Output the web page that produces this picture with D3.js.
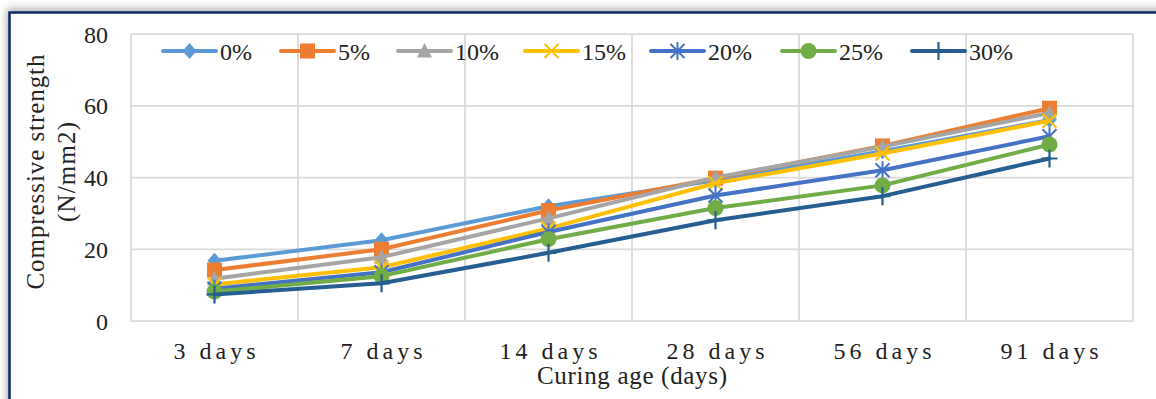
<!DOCTYPE html>
<html>
<head>
<meta charset="utf-8">
<script src="https://cdn.jsdelivr.net/npm/d3@7"></script>
<style>
  html, body { margin: 0; padding: 0; background: #fff; }
  svg { display: block; }
</style>
</head>
<body>
<div id="chart"></div>
<script>
// data
const categories = ["3 days", "7 days", "14 days", "28 days", "56 days", "91 days"];
const seriesNames = ["0%", "5%", "10%", "15%", "20%", "25%", "30%"];
const s0  = [16.8, 22.5, 32.0, 39.2, 47.3, 56.0];
const s5  = [14.2, 20.0, 30.8, 39.8, 48.8, 59.3];
const s10 = [11.8, 17.8, 28.6, 40.0, 48.6, 58.0];
const s15 = [10.2, 15.0, 25.8, 38.4, 46.7, 55.8];
const s20 = [9.0, 13.6, 24.8, 35.0, 42.0, 51.5];
const s25 = [8.2, 12.5, 22.8, 31.5, 37.8, 49.2];
const s30 = [7.4, 10.5, 19.0, 28.1, 34.8, 45.3];
const yTicks = [0, 20, 40, 60, 80];

const seriesValues = [s0, s5, s10, s15, s20, s25, s30];
const colors = ["#5B9BD5", "#ED7D31", "#A5A5A5", "#FFC000", "#4472C4", "#70AD47", "#255E91"];
const markers = ["diamond", "square", "triangle", "x", "star", "circle", "plus"];

const width = 1156;
const height = 399;
const font = "'Liberation Serif', 'Times New Roman', serif";

const svg = d3.select("#chart").append("svg")
  .attr("width", width)
  .attr("height", height);

// frame with soft shadow on top/left
const defs = svg.append("defs");
const flt = defs.append("filter").attr("id", "shadow")
  .attr("x", "-5%").attr("y", "-10%").attr("width", "110%").attr("height", "120%");
flt.append("feDropShadow")
  .attr("dx", -2).attr("dy", -3)
  .attr("stdDeviation", 4)
  .attr("flood-color", "#000")
  .attr("flood-opacity", 0.35);

svg.append("rect")
  .attr("x", 9).attr("y", 12)
  .attr("width", width + 20).attr("height", height + 20)
  .attr("fill", "#fff")
  .attr("filter", "url(#shadow)");
svg.append("rect")
  .attr("x", 9.5).attr("y", 12.5)
  .attr("width", width + 20).attr("height", height + 20)
  .attr("fill", "none")
  .attr("stroke", "#0E2A6B")
  .attr("stroke-width", 2.5);

// plot area
const plot = { left: 131, right: 1133, top: 34, bottom: 321 };

const x = d3.scaleBand()
  .domain(categories)
  .range([plot.left, plot.right])
  .padding(0);

const y = d3.scaleLinear()
  .domain([0, 80])
  .range([plot.bottom, plot.top]);

const grid = svg.append("g").attr("stroke", "#D9D9D9").attr("stroke-width", 1.75);

// horizontal gridlines
grid.selectAll("line.h")
  .data(yTicks)
  .join("line")
  .attr("class", "h")
  .attr("x1", plot.left).attr("x2", plot.right)
  .attr("y1", d => y(d)).attr("y2", d => y(d));

// vertical gridlines on category boundaries
const bounds = categories.map(c => x(c)).concat([x(categories[categories.length - 1]) + x.bandwidth()]);
grid.selectAll("line.v")
  .data(bounds)
  .join("line")
  .attr("class", "v")
  .attr("x1", d => d).attr("x2", d => d)
  .attr("y1", plot.top).attr("y2", plot.bottom);

// y tick labels
svg.append("g")
  .selectAll("text")
  .data(yTicks)
  .join("text")
  .attr("x", 108)
  .attr("y", d => y(d))
  .attr("dy", "0.36em")
  .attr("text-anchor", "end")
  .attr("font-family", font)
  .attr("font-size", 24)
  .attr("fill", "#222")
  .text(d => d);

// x tick labels (spaced out like the original)
svg.append("g")
  .selectAll("text")
  .data(categories)
  .join("text")
  .attr("x", d => x(d) + x.bandwidth() / 2 + 2)
  .attr("y", 359)
  .attr("text-anchor", "middle")
  .attr("font-family", font)
  .attr("font-size", 24)
  .attr("letter-spacing", 4)
  .attr("fill", "#222")
  .text(d => d);

// axis titles
svg.append("text")
  .attr("x", (plot.left + plot.right) / 2)
  .attr("y", 384)
  .attr("text-anchor", "middle")
  .attr("font-family", font)
  .attr("font-size", 25)
  .attr("textLength", 190)
  .attr("lengthAdjust", "spacing")
  .attr("fill", "#222")
  .text("Curing age (days)");

const yTitle = svg.append("g")
  .attr("transform", "translate(0,172) rotate(-90)")
  .attr("font-family", font)
  .attr("font-size", 25)
  .attr("fill", "#222");
yTitle.append("text")
  .attr("x", 0).attr("y", 44)
  .attr("text-anchor", "middle")
  .attr("textLength", 235)
  .attr("lengthAdjust", "spacing")
  .text("Compressive strength");
yTitle.append("text")
  .attr("x", 0).attr("y", 75)
  .attr("text-anchor", "middle")
  .attr("textLength", 100)
  .attr("lengthAdjust", "spacing")
  .text("(N/mm2)");

// marker shapes
function drawMarker(g, type, color) {
  if (type === "diamond") {
    g.append("path").attr("d", "M0,-8L7,0L0,8L-7,0Z").attr("fill", color);
  } else if (type === "square") {
    g.append("rect").attr("x", -7.5).attr("y", -7.5).attr("width", 15).attr("height", 15).attr("fill", color);
  } else if (type === "triangle") {
    g.append("path").attr("d", "M0,-8L7.5,6.5L-7.5,6.5Z").attr("fill", color);
  } else if (type === "x") {
    g.append("path").attr("d", "M-7,-7L7,7M7,-7L-7,7")
      .attr("stroke", color).attr("stroke-width", 2).attr("fill", "none");
  } else if (type === "star") {
    g.append("path").attr("d", "M-7,-7L7,7M7,-7L-7,7M0,-9L0,9")
      .attr("stroke", color).attr("stroke-width", 2).attr("fill", "none");
  } else if (type === "circle") {
    g.append("circle").attr("r", 8).attr("fill", color);
  } else if (type === "plus") {
    g.append("path").attr("d", "M-8,0L8,0M0,-9L0,9")
      .attr("stroke", color).attr("stroke-width", 2.2).attr("fill", "none");
  }
}

const line = d3.line()
  .x((d, i) => x(categories[i]) + x.bandwidth() / 2)
  .y(d => y(d));

// series, drawn in order so later ones sit on top
seriesValues.forEach((vals, si) => {
  const g = svg.append("g");
  g.append("path")
    .datum(vals)
    .attr("d", line)
    .attr("fill", "none")
    .attr("stroke", colors[si])
    .attr("stroke-width", 4)
    .attr("stroke-linejoin", "round")
    .attr("stroke-linecap", "round");
  vals.forEach((v, i) => {
    const m = g.append("g")
      .attr("transform", `translate(${x(categories[i]) + x.bandwidth() / 2},${y(v)})`);
    drawMarker(m, markers[si], colors[si]);
  });
});

// legend
const legendX = [163, 281, 398, 525, 651, 782, 912];
const legendY = 51;
const legend = svg.append("g");
seriesNames.forEach((name, si) => {
  const lg = legend.append("g").attr("transform", `translate(${legendX[si]},${legendY})`);
  lg.append("line")
    .attr("x1", 0).attr("x2", 53)
    .attr("stroke", colors[si])
    .attr("stroke-width", 4)
    .attr("stroke-linecap", "round");
  const m = lg.append("g").attr("transform", "translate(26.5,0)");
  drawMarker(m, markers[si], colors[si]);
  lg.append("text")
    .attr("x", 57)
    .attr("dy", "0.36em")
    .attr("font-family", font)
    .attr("font-size", 24)
    .attr("fill", "#222")
    .text(name);
});
</script>
</body>
</html>
